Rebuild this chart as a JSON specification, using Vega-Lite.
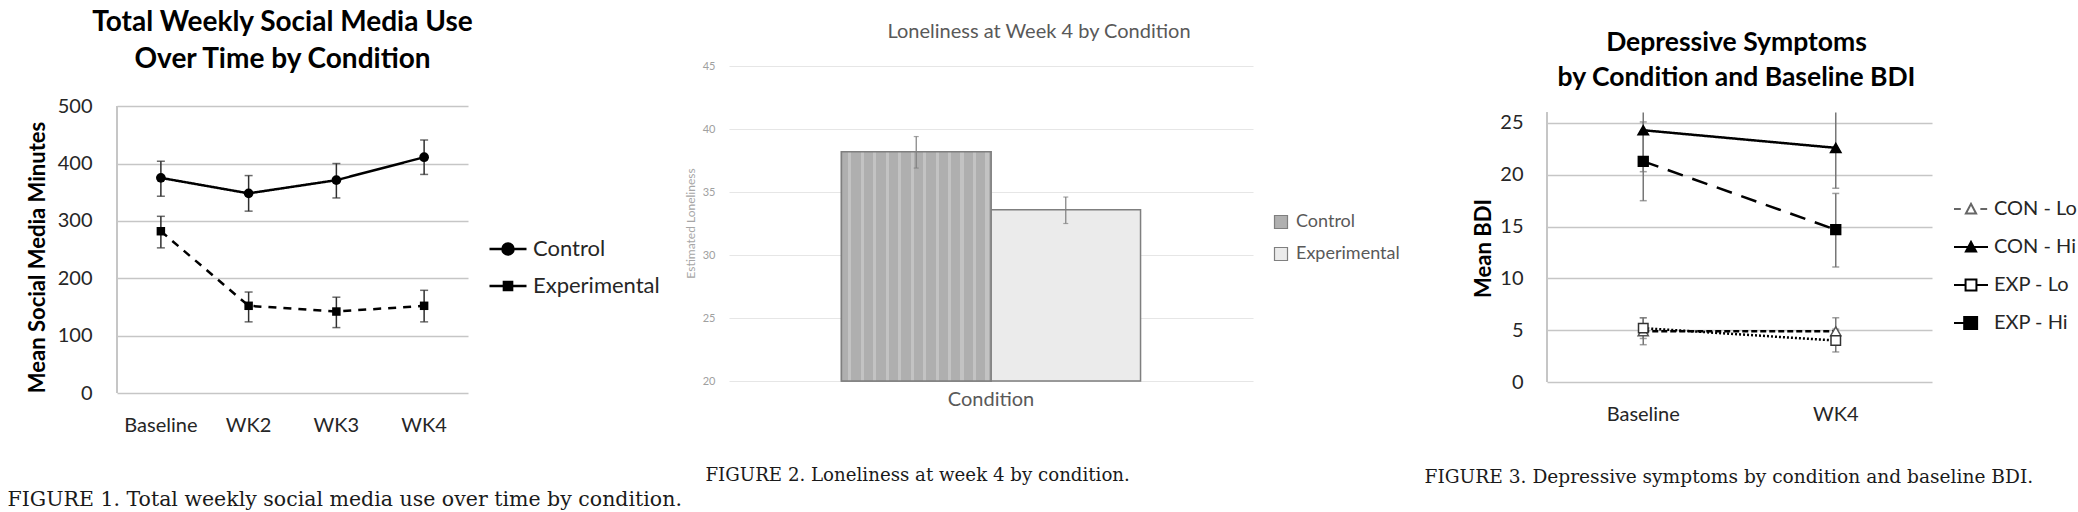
{
  "$schema": "https://vega.github.io/schema/vega-lite/v6.json",
  "background": "white",
  "padding": {"left": 7, "top": 8, "right": 0, "bottom": 0},
  "bounds": "flush",
  "spacing": 261,
  "config": {"view": {"stroke": null}, "font": "Lato"},
  "resolve": {
    "scale": {"shape": "independent", "strokeDash": "independent", "fill": "independent", "stroke": "independent", "size": "independent"},
    "legend": {"shape": "independent", "strokeDash": "independent", "fill": "independent", "stroke": "independent", "size": "independent"}
  },
  "hconcat": [
    {
      "width": 351,
      "height": 327,
      "title": {"text": ["Total Weekly Social Media Use", "Over Time by Condition"], "font": "Lato", "fontSize": 28, "fontWeight": "bold", "color": "#000000", "lineHeight": 37.5, "anchor": "middle", "frame": "group", "dx": -10, "offset": -8},
      "data": {"values": [
        {"cond": "Control", "time": "Baseline", "mean": 375, "lo": 343, "hi": 404},
        {"cond": "Control", "time": "WK2", "mean": 348, "lo": 317, "hi": 379},
        {"cond": "Control", "time": "WK3", "mean": 371, "lo": 340, "hi": 400},
        {"cond": "Control", "time": "WK4", "mean": 411, "lo": 381, "hi": 441},
        {"cond": "Experimental", "time": "Baseline", "mean": 282, "lo": 253, "hi": 308},
        {"cond": "Experimental", "time": "WK2", "mean": 152, "lo": 124, "hi": 176},
        {"cond": "Experimental", "time": "WK3", "mean": 142, "lo": 114, "hi": 167},
        {"cond": "Experimental", "time": "WK4", "mean": 152, "lo": 124, "hi": 179}
      ]},
      "encoding": {
        "x": {"field": "time", "type": "ordinal", "sort": ["Baseline", "WK2", "WK3", "WK4"], "scale": {"type": "band", "paddingInner": 0, "paddingOuter": 0},
          "axis": {"title": "FIGURE 1. Total weekly social media use over time by condition.", "titleFont": "DejaVu Serif", "titleFontSize": 20.5, "titleFontWeight": "normal", "titleColor": "#1a1a1a", "titleAnchor": "start", "titleAlign": "left", "titleBaseline": "alphabetic", "titleX": -110, "titleY": 112,
            "labelFont": "Lato", "labelFontSize": 20, "labelColor": "#262626", "labelPadding": 22, "labelAngle": 0, "ticks": false, "domain": false, "grid": false}}
      },
      "resolve": {
        "scale": {"shape": "independent", "fill": "independent", "stroke": "independent"},
        "legend": {"shape": "independent", "fill": "independent", "stroke": "independent"}
      },
      "layer": [
        {"mark": {"type": "rule", "color": "#c6c6c6", "strokeWidth": 1.5},
         "encoding": {"x": {"datum": "Baseline", "type": "ordinal", "bandPosition": 0}, "y": {"datum": 0, "type": "quantitative", "title": "Mean Social Media Minutes"}, "y2": {"datum": 500}}},
        {"mark": {"type": "rule", "color": "#2e2e2e", "strokeWidth": 1.5},
         "encoding": {"y": {"field": "lo", "type": "quantitative", "title": "Mean Social Media Minutes"}, "y2": {"field": "hi"}}},
        {"mark": {"type": "tick", "color": "#2e2e2e", "thickness": 1.5, "size": 8},
         "encoding": {"y": {"field": "lo", "type": "quantitative", "title": "Mean Social Media Minutes"}}},
        {"mark": {"type": "tick", "color": "#2e2e2e", "thickness": 1.5, "size": 8},
         "encoding": {"y": {"field": "hi", "type": "quantitative", "title": "Mean Social Media Minutes"}}},
        {"mark": {"type": "line", "color": "#000000", "strokeWidth": 2.5},
         "encoding": {
           "y": {"field": "mean", "type": "quantitative", "title": "Mean Social Media Minutes", "scale": {"domain": [0, 570], "nice": false},
             "axis": {"values": [0, 100, 200, 300, 400, 500], "grid": true, "gridColor": "#c6c6c6", "gridWidth": 1.5, "domain": false, "ticks": false,
               "labelFont": "Lato", "labelFontSize": 20, "labelColor": "#262626", "labelPadding": 25,
               "titleFont": "Lato", "titleFontSize": 22, "titleFontWeight": "bold", "titleColor": "#000000", "titleX": -80, "titleY": 191, "titleAngle": -90, "titleAlign": "center", "titleBaseline": "middle"}},
           "strokeDash": {"field": "cond", "type": "nominal", "scale": {"range": [[1, 0], [8, 7]]}, "legend": null}
         }},
        {"mark": {"type": "point", "filled": true, "opacity": 1, "color": "#000000"},
         "encoding": {
           "y": {"field": "mean", "type": "quantitative", "title": "Mean Social Media Minutes"},
           "size": {"field": "cond", "type": "nominal", "scale": {"range": [95, 72]}, "legend": null},
           "shape": {"field": "cond", "type": "nominal", "scale": {"range": ["circle", "square"]}, "legend": null}
         }},
        {"transform": [{"filter": "false"}],
         "mark": {"type": "point", "opacity": 1, "strokeWidth": 2.5},
         "encoding": {
           "y": {"field": "mean", "type": "quantitative", "title": "Mean Social Media Minutes"},
           "shape": {"field": "cond", "type": "nominal",
             "scale": {"domain": ["Control", "Experimental"], "range": ["M-1,0H1M-0.3,0A0.3,0.3,0,1,1,0.3,0A0.3,0.3,0,1,1,-0.3,0Z", "M-1,0H1M-0.22,-0.22H0.22V0.22H-0.22Z"]},
             "legend": {"title": null, "orient": "none", "legendX": 371, "legendY": 163, "padding": 0, "symbolSize": 1369, "symbolStrokeWidth": 2.5, "symbolOpacity": 1,
               "labelFont": "Lato", "labelFontSize": 22, "labelColor": "#262626", "labelOffset": 5, "rowPadding": 6}},
           "fill": {"field": "cond", "type": "nominal",
             "scale": {"domain": ["Control", "Experimental"], "range": ["#000000", "#000000"]},
             "legend": {"title": null, "orient": "none", "legendX": 371, "legendY": 163, "padding": 0, "symbolSize": 1369, "symbolStrokeWidth": 2.5, "symbolOpacity": 1,
               "labelFont": "Lato", "labelFontSize": 22, "labelColor": "#262626", "labelOffset": 5, "rowPadding": 6}},
           "stroke": {"field": "cond", "type": "nominal",
             "scale": {"domain": ["Control", "Experimental"], "range": ["#000000", "#000000"]},
             "legend": {"title": null, "orient": "none", "legendX": 371, "legendY": 163, "padding": 0, "symbolSize": 1369, "symbolStrokeWidth": 2.5, "symbolOpacity": 1,
               "labelFont": "Lato", "labelFontSize": 22, "labelColor": "#262626", "labelOffset": 5, "rowPadding": 6}}
         }}
      ]
    },
    {
      "bounds": "flush",
      "spacing": 294,
      "resolve": {
        "scale": {"shape": "independent", "strokeDash": "independent", "fill": "independent", "stroke": "independent", "size": "independent"},
        "legend": {"shape": "independent", "strokeDash": "independent", "fill": "independent", "stroke": "independent", "size": "independent"}
      },
      "hconcat": [
        {
          "width": 524,
          "height": 315,
          "title": {"text": "Loneliness at Week 4 by Condition", "font": "Lato", "fontSize": 20, "fontWeight": "normal", "color": "#595959", "anchor": "middle", "frame": "group", "dx": 48, "offset": 18},
          "data": {"values": [
            {"cat": "Condition", "cond": "Control", "mean": 38.2, "lo": 36.9, "hi": 39.4},
            {"cat": "Condition", "cond": "Experimental", "mean": 33.6, "lo": 32.5, "hi": 34.6}
          ]},
          "encoding": {
            "x": {"field": "cat", "type": "nominal", "scale": {"paddingInner": 0, "paddingOuter": 0.376},
              "axis": {"title": "FIGURE 2. Loneliness at week 4 by condition.", "titleFont": "DejaVu Serif", "titleFontSize": 18.2, "titleFontWeight": "normal", "titleColor": "#1a1a1a", "titleAnchor": "start", "titleAlign": "left", "titleBaseline": "alphabetic", "titleX": -24, "titleY": 99,
                "labelFont": "Lato", "labelFontSize": 20, "labelColor": "#595959", "labelPadding": 8, "labelAngle": 0, "ticks": false, "domain": false, "grid": false}},
            "xOffset": {"field": "cond", "type": "nominal", "sort": ["Control", "Experimental"], "scale": {"paddingInner": 0, "paddingOuter": 0}}
          },
          "layer": [
            {"mark": {"type": "bar", "stroke": "#7f7f7f", "strokeWidth": 1.5},
             "encoding": {
               "y": {"field": "mean", "type": "quantitative", "title": "Estimated Loneliness", "scale": {"domain": [20, 45], "zero": false, "nice": false},
                 "axis": {"values": [20, 25, 30, 35, 40, 45], "grid": true, "gridColor": "#e6e6e6", "gridWidth": 1.2, "domain": false, "ticks": false,
                   "labelFont": "Lato", "labelFontSize": 11, "labelColor": "#a0a0a0", "labelPadding": 14,
                   "titleFont": "Lato", "titleFontSize": 12, "titleFontWeight": "normal", "titleColor": "#a6a6a6", "titleX": -39, "titleY": 157, "titleAngle": -90, "titleAlign": "center", "titleBaseline": "middle"}},
               "y2": {"datum": 20},
               "fill": {"field": "cond", "type": "nominal", "scale": {"domain": ["Control", "Experimental"], "range": ["#b0b0b0", "#ebebeb"]},
                 "legend": {"title": null, "orient": "none", "legendX": 543, "legendY": 147, "padding": 0, "symbolType": "square", "symbolSize": 169, "symbolStrokeColor": "#7f7f7f", "symbolStrokeWidth": 1.2,
                   "labelFont": "Lato", "labelFontSize": 18, "labelColor": "#595959", "labelOffset": 6, "rowPadding": 14}}
             }},
            {"transform": [{"filter": "datum.cond === 'Control'"}],
             "mark": {"type": "bar", "stroke": "#7f7f7f", "strokeWidth": 1.5,
               "fill": {"gradient": "linear", "x1": 0, "x2": 1, "y1": 0, "y2": 0, "stops": [
                 {"offset": 0, "color": "#afafaf"},
                 {"offset": 0.0458, "color": "#afafaf"}, {"offset": 0.0458, "color": "#c3c3c3"}, {"offset": 0.0667, "color": "#c3c3c3"}, {"offset": 0.0667, "color": "#afafaf"},
                 {"offset": 0.1292, "color": "#afafaf"}, {"offset": 0.1292, "color": "#c3c3c3"}, {"offset": 0.15, "color": "#c3c3c3"}, {"offset": 0.15, "color": "#afafaf"},
                 {"offset": 0.2125, "color": "#afafaf"}, {"offset": 0.2125, "color": "#c3c3c3"}, {"offset": 0.2333, "color": "#c3c3c3"}, {"offset": 0.2333, "color": "#afafaf"},
                 {"offset": 0.2958, "color": "#afafaf"}, {"offset": 0.2958, "color": "#c3c3c3"}, {"offset": 0.3167, "color": "#c3c3c3"}, {"offset": 0.3167, "color": "#afafaf"},
                 {"offset": 0.3792, "color": "#afafaf"}, {"offset": 0.3792, "color": "#c3c3c3"}, {"offset": 0.4, "color": "#c3c3c3"}, {"offset": 0.4, "color": "#afafaf"},
                 {"offset": 0.4625, "color": "#afafaf"}, {"offset": 0.4625, "color": "#c3c3c3"}, {"offset": 0.4833, "color": "#c3c3c3"}, {"offset": 0.4833, "color": "#afafaf"},
                 {"offset": 0.5458, "color": "#afafaf"}, {"offset": 0.5458, "color": "#c3c3c3"}, {"offset": 0.5667, "color": "#c3c3c3"}, {"offset": 0.5667, "color": "#afafaf"},
                 {"offset": 0.6292, "color": "#afafaf"}, {"offset": 0.6292, "color": "#c3c3c3"}, {"offset": 0.65, "color": "#c3c3c3"}, {"offset": 0.65, "color": "#afafaf"},
                 {"offset": 0.7125, "color": "#afafaf"}, {"offset": 0.7125, "color": "#c3c3c3"}, {"offset": 0.7333, "color": "#c3c3c3"}, {"offset": 0.7333, "color": "#afafaf"},
                 {"offset": 0.7958, "color": "#afafaf"}, {"offset": 0.7958, "color": "#c3c3c3"}, {"offset": 0.8167, "color": "#c3c3c3"}, {"offset": 0.8167, "color": "#afafaf"},
                 {"offset": 0.8792, "color": "#afafaf"}, {"offset": 0.8792, "color": "#c3c3c3"}, {"offset": 0.9, "color": "#c3c3c3"}, {"offset": 0.9, "color": "#afafaf"},
                 {"offset": 0.9625, "color": "#afafaf"}, {"offset": 0.9625, "color": "#c3c3c3"}, {"offset": 0.9833, "color": "#c3c3c3"}, {"offset": 0.9833, "color": "#afafaf"},
                 {"offset": 1, "color": "#afafaf"}
               ]}},
             "encoding": {"y": {"field": "mean", "type": "quantitative", "title": "Estimated Loneliness"}, "y2": {"datum": 20}}},
            {"mark": {"type": "rule", "color": "#7f7f7f", "strokeWidth": 1.2},
             "encoding": {"y": {"field": "lo", "type": "quantitative", "title": "Estimated Loneliness"}, "y2": {"field": "hi"}}},
            {"mark": {"type": "tick", "color": "#7f7f7f", "thickness": 1.2, "size": 5},
             "encoding": {"y": {"field": "lo", "type": "quantitative", "title": "Estimated Loneliness"}}},
            {"mark": {"type": "tick", "color": "#7f7f7f", "thickness": 1.2, "size": 5},
             "encoding": {"y": {"field": "hi", "type": "quantitative", "title": "Estimated Loneliness"}}}
          ]
        },
        {
          "width": 385,
          "height": 316,
          "title": {"text": ["Depressive Symptoms", "by Condition and Baseline BDI"], "font": "Lato", "fontSize": 26.5, "fontWeight": "bold", "color": "#000000", "lineHeight": 35, "anchor": "middle", "frame": "group", "dx": -3, "offset": -25},
          "data": {"values": [
            {"series": "CON - Lo", "time": "Baseline", "mean": 4.9, "lo": 3.6, "hi": 6.2},
            {"series": "CON - Lo", "time": "WK4", "mean": 4.9, "lo": 3.6, "hi": 6.2},
            {"series": "CON - Hi", "time": "Baseline", "mean": 24.3, "lo": 20.3, "hi": 26},
            {"series": "CON - Hi", "time": "WK4", "mean": 22.6, "lo": 18.7, "hi": 26},
            {"series": "EXP - Lo", "time": "Baseline", "mean": 5.2, "lo": 4.2, "hi": 6.2},
            {"series": "EXP - Lo", "time": "WK4", "mean": 4.0, "lo": 2.9, "hi": 5.1},
            {"series": "EXP - Hi", "time": "Baseline", "mean": 21.3, "lo": 17.5, "hi": 25.1},
            {"series": "EXP - Hi", "time": "WK4", "mean": 14.7, "lo": 11.1, "hi": 18.2}
          ]},
          "encoding": {
            "x": {"field": "time", "type": "ordinal", "sort": ["Baseline", "WK4"], "scale": {"type": "band", "paddingInner": 0, "paddingOuter": 0},
              "axis": {"title": "FIGURE 3. Depressive symptoms by condition and baseline BDI.", "titleFont": "DejaVu Serif", "titleFontSize": 18.6, "titleFontWeight": "normal", "titleColor": "#1a1a1a", "titleAnchor": "start", "titleAlign": "left", "titleBaseline": "alphabetic", "titleX": -123, "titleY": 100,
                "labelFont": "Lato", "labelFontSize": 20, "labelColor": "#262626", "labelPadding": 22, "labelAngle": 0, "ticks": false, "domain": false, "grid": false}}
          },
          "resolve": {
            "scale": {"shape": "independent", "fill": "independent", "stroke": "independent"},
            "legend": {"shape": "independent", "fill": "independent", "stroke": "independent"}
          },
          "layer": [
            {"mark": {"type": "rule", "color": "#c6c6c6", "strokeWidth": 1.5},
             "encoding": {"x": {"datum": "Baseline", "type": "ordinal", "bandPosition": 0}, "y": {"datum": 0, "type": "quantitative", "title": "Mean BDI"}, "y2": {"datum": 26}}},
            {"mark": {"type": "rule", "color": "#777777", "strokeWidth": 1.5},
             "encoding": {"y": {"field": "lo", "type": "quantitative", "title": "Mean BDI"}, "y2": {"field": "hi"}}},
            {"mark": {"type": "tick", "color": "#777777", "thickness": 1.5, "size": 7},
             "encoding": {"y": {"field": "lo", "type": "quantitative", "title": "Mean BDI"}}},
            {"transform": [{"filter": "datum.hi < 26"}],
             "mark": {"type": "tick", "color": "#777777", "thickness": 1.5, "size": 7},
             "encoding": {"y": {"field": "hi", "type": "quantitative", "title": "Mean BDI"}}},
            {"mark": {"type": "line", "color": "#000000", "strokeWidth": 2.5},
             "encoding": {
               "y": {"field": "mean", "type": "quantitative", "title": "Mean BDI", "scale": {"domain": [0, 30.5], "nice": false},
                 "axis": {"values": [0, 5, 10, 15, 20, 25], "grid": true, "gridColor": "#c6c6c6", "gridWidth": 1.5, "domain": false, "ticks": false,
                   "labelFont": "Lato", "labelFontSize": 20, "labelColor": "#262626", "labelPadding": 24,
                   "titleFont": "Lato", "titleFontSize": 22, "titleFontWeight": "bold", "titleColor": "#000000", "titleX": -64, "titleY": 182, "titleAngle": -90, "titleAlign": "center", "titleBaseline": "middle"}},
               "strokeDash": {"field": "series", "type": "nominal", "scale": {"range": [[1, 0], [6, 3], [16, 10], [2, 2]]}, "legend": null}
             }},
            {"mark": {"type": "point", "opacity": 1, "strokeWidth": 1.5},
             "encoding": {
               "y": {"field": "mean", "type": "quantitative", "title": "Mean BDI"},
               "fill": {"field": "series", "type": "nominal", "scale": {"range": ["#000000", "#ffffff", "#000000", "#ffffff"]}, "legend": null},
               "stroke": {"field": "series", "type": "nominal", "scale": {"range": ["#000000", "#555555", "#000000", "#333333"]}, "legend": null},
               "size": {"field": "series", "type": "nominal", "scale": {"range": [110, 90, 175, 130]}, "legend": null},
               "shape": {"field": "series", "type": "nominal", "scale": {"range": ["triangle-up", "triangle-up", "square", "square"]}, "legend": null}
             }},
            {"transform": [{"filter": "false"}],
             "mark": {"type": "point", "opacity": 1, "strokeWidth": 2},
             "encoding": {
               "y": {"field": "mean", "type": "quantitative", "title": "Mean BDI"},
               "shape": {"field": "series", "type": "nominal",
                 "scale": {"domain": ["CON - Lo", "CON - Hi", "EXP - Lo", "EXP - Hi"], "range": ["M-1,0H-0.6M0.55,0H0.95M-0.3,0.26L0,-0.3L0.3,0.26Z", "M-1,0H1M-0.3,0.26L0,-0.3L0.3,0.26Z", "M-1,0H-0.32M0.32,0H1M-0.32,-0.32H0.32V0.32H-0.32Z", "M-1,0H-0.4M-0.4,-0.36H0.36V0.36H-0.4Z"]},
                 "legend": {"title": null, "orient": "none", "legendX": 406, "legendY": 125, "padding": 0, "symbolSize": 1156, "symbolStrokeWidth": 2, "symbolOpacity": 1,
                   "labelFont": "Lato", "labelFontSize": 20, "labelColor": "#262626", "labelOffset": 5, "rowPadding": 10}},
               "fill": {"field": "series", "type": "nominal",
                 "scale": {"domain": ["CON - Lo", "CON - Hi", "EXP - Lo", "EXP - Hi"], "range": ["#ffffff", "#000000", "#ffffff", "#000000"]},
                 "legend": {"title": null, "orient": "none", "legendX": 406, "legendY": 125, "padding": 0, "symbolSize": 1156, "symbolStrokeWidth": 2, "symbolOpacity": 1,
                   "labelFont": "Lato", "labelFontSize": 20, "labelColor": "#262626", "labelOffset": 5, "rowPadding": 10}},
               "stroke": {"field": "series", "type": "nominal",
                 "scale": {"domain": ["CON - Lo", "CON - Hi", "EXP - Lo", "EXP - Hi"], "range": ["#666666", "#000000", "#000000", "#000000"]},
                 "legend": {"title": null, "orient": "none", "legendX": 406, "legendY": 125, "padding": 0, "symbolSize": 1156, "symbolStrokeWidth": 2, "symbolOpacity": 1,
                   "labelFont": "Lato", "labelFontSize": 20, "labelColor": "#262626", "labelOffset": 5, "rowPadding": 10}}
             }}
          ]
        }
      ]
    }
  ]
}
